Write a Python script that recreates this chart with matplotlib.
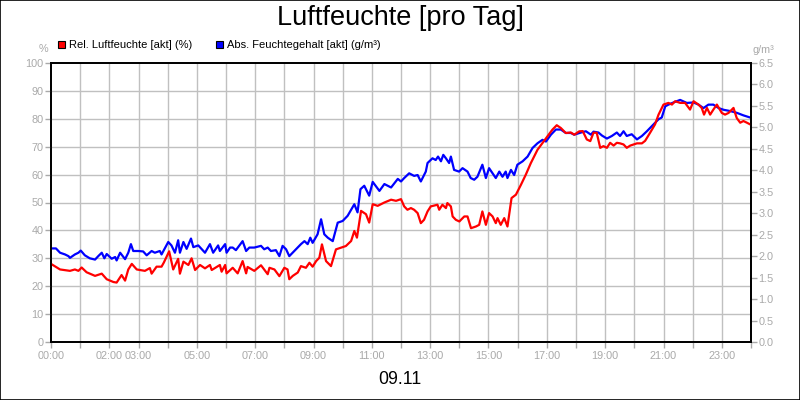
import matplotlib
matplotlib.use('Agg')
import matplotlib.pyplot as plt
from matplotlib.patches import Rectangle
import numpy as np

plt.rcParams['font.family'] = ['Liberation Sans', 'DejaVu Sans']

# relative humidity (%) - time in hours
rel_t = [0.0, 0.31, 0.65, 0.82, 0.94, 1.05, 1.22, 1.51, 1.74, 1.91, 2.14, 2.25, 2.42, 2.54,
         2.65, 2.77, 2.94, 3.22, 3.39, 3.45, 3.62, 3.79, 3.87, 4.05, 4.19, 4.36, 4.42, 4.54,
         4.71, 4.82, 4.94, 5.11, 5.28, 5.45, 5.51, 5.79, 5.85, 5.97, 6.02, 6.23, 6.4, 6.57,
         6.69, 6.74, 6.97, 7.2, 7.43, 7.49, 7.66, 7.83, 8.0, 8.11, 8.17, 8.29, 8.46, 8.57,
         8.74, 8.86, 8.97, 9.09, 9.2, 9.29, 9.43, 9.6, 9.77, 10.11, 10.29, 10.4, 10.49, 10.63,
         10.8, 10.91, 11.03, 11.2, 11.43, 11.66, 11.83, 12.0, 12.11, 12.22, 12.34, 12.45, 12.57,
         12.68, 12.79, 12.91, 13.02, 13.25, 13.31, 13.42, 13.54, 13.59, 13.71, 13.77, 13.88,
         14.0, 14.17, 14.28, 14.4, 14.57, 14.68, 14.79, 14.91, 15.02, 15.14, 15.25, 15.31,
         15.42, 15.54, 15.65, 15.79, 15.94, 16.11, 16.28, 16.45, 16.68, 16.85, 17.02, 17.19,
         17.34, 17.48, 17.65, 17.82, 17.94, 18.11, 18.23, 18.37, 18.49, 18.6, 18.71, 18.83,
         18.94, 19.06, 19.17, 19.29, 19.4, 19.51, 19.63, 19.74, 19.86, 20.09, 20.26, 20.37,
         20.54, 20.71, 20.83, 21.0, 21.17, 21.29, 21.4, 21.57, 21.74, 21.91, 22.03, 22.2,
         22.31, 22.39, 22.49, 22.6, 22.71, 22.83, 23.0, 23.11, 23.23, 23.4, 23.51, 23.63,
         23.74, 23.86, 23.97, 24.0]
rel_h = [28, 26, 25.5, 26, 25.5, 26.7, 25, 23.7, 24.5, 22.5, 21.5, 21.3, 24, 22,
         26, 28, 26, 25.5, 26.5, 24.5, 27, 27, 28.5, 32.5, 26, 29.8, 24.5, 28.8,
         27.6, 30, 25.8, 27.6, 26.4, 27.6, 25.8, 27.6, 25.2, 27.6, 24.6, 26.6, 24.6, 29,
         24.6, 26.9, 25.5, 27.5, 24.3, 26.6, 26, 23.6, 26.6, 26, 22.5, 23.7, 24.9, 27.2,
         26.6, 28.4, 27, 29, 30.2, 35, 29, 27.2, 33.2, 34.4, 36.2, 39.8, 37.4, 47,
         45.8, 42.8, 49.4, 48.8, 50, 51, 50.6, 51.2, 48.6, 47.4, 48, 47.4, 46.2,
         42.6, 43.8, 46.8, 48.6, 49.2, 47.4, 49.2, 48, 49.8, 48.6, 45, 43.8,
         43.2, 45, 45, 40.8, 41.4, 42, 46.8, 42, 46.2, 45, 42.6, 44.4,
         42, 44.4, 41.4, 51.6, 52.8, 56.3, 60, 64.1, 68.9, 71.3, 73.7, 76.1,
         77.7, 76.7, 74.9, 75.1, 74.3, 75.5, 75.6, 72.6, 72, 75, 75, 69.6,
         70.2, 69.6, 71.4, 70.4, 71.4, 71.2, 70.8, 69.6, 70.4, 71.2, 71.2, 72.1,
         75, 78, 81.5, 85.1, 85.7, 85.1, 86.3, 85.7, 85.7, 83.3, 86.3, 85.1,
         83.9, 81.5, 83.9, 81.5, 83.3, 85.1, 82.1, 81.5, 82.1, 83.9, 80.3, 78.6,
         79.2, 78.6, 78, 78]

# absolute humidity (g/m3)
abs_t = [0.0, 0.17, 0.31, 0.48, 0.6, 0.65, 0.82, 0.94, 1.02, 1.16, 1.33, 1.51, 1.62, 1.74,
         1.83, 1.91, 2.08, 2.2, 2.25, 2.37, 2.54, 2.65, 2.74, 2.82, 2.99, 3.16, 3.28, 3.45,
         3.56, 3.73, 3.79, 4.02, 4.13, 4.25, 4.36, 4.42, 4.54, 4.65, 4.8, 4.88, 5.05, 5.28,
         5.45, 5.56, 5.73, 5.79, 5.97, 6.02, 6.14, 6.23, 6.34, 6.57, 6.69, 6.8, 6.97, 7.2,
         7.31, 7.43, 7.54, 7.71, 7.83, 7.94, 8.06, 8.17, 8.34, 8.57, 8.69, 8.8, 8.89, 8.97,
         9.14, 9.26, 9.37, 9.49, 9.66, 9.83, 10.0, 10.17, 10.4, 10.51, 10.61, 10.74, 10.91,
         11.03, 11.26, 11.43, 11.66, 11.89, 12.0, 12.11, 12.28, 12.45, 12.57, 12.68, 12.85,
         12.91, 13.08, 13.19, 13.27, 13.37, 13.45, 13.54, 13.65, 13.71, 13.82, 13.99, 14.11,
         14.28, 14.39, 14.51, 14.62, 14.79, 14.91, 15.02, 15.14, 15.25, 15.37, 15.48, 15.59,
         15.65, 15.77, 15.88, 15.99, 16.17, 16.34, 16.51, 16.68, 16.85, 16.97, 17.14, 17.31,
         17.48, 17.65, 17.82, 17.94, 18.17, 18.34, 18.51, 18.6, 18.77, 18.89, 19.06, 19.23,
         19.4, 19.51, 19.63, 19.74, 19.91, 20.09, 20.26, 20.43, 20.6, 20.83, 20.94, 21.06,
         21.17, 21.34, 21.57, 21.8, 22.03, 22.2, 22.37, 22.54, 22.71, 22.89, 23.06, 23.29,
         23.51, 23.74, 23.97, 24.0]
abs_h = [2.18, 2.18, 2.08, 2.04, 2.00, 1.96, 2.04, 2.08, 2.13, 2.02, 1.95, 1.92, 2.00, 2.08,
         1.95, 2.05, 1.94, 1.98, 1.90, 2.08, 1.93, 2.08, 2.28, 2.12, 2.12, 2.11, 2.02, 2.12,
         2.08, 2.12, 2.04, 2.33, 2.25, 2.08, 2.37, 2.08, 2.33, 2.17, 2.41, 2.21, 2.25, 2.08,
         2.28, 2.08, 2.25, 2.12, 2.28, 2.08, 2.20, 2.20, 2.14, 2.35, 2.12, 2.20, 2.20, 2.24,
         2.16, 2.20, 2.12, 2.14, 2.00, 2.24, 2.16, 2.00, 2.12, 2.28, 2.35, 2.28, 2.43, 2.31,
         2.51, 2.86, 2.51, 2.43, 2.35, 2.78, 2.82, 2.94, 3.21, 3.02, 3.56, 3.64, 3.41,
         3.73, 3.52, 3.68, 3.60, 3.80, 3.74, 3.82, 3.93, 3.87, 3.89, 3.74, 3.97,
         4.17, 4.28, 4.24, 4.32, 4.21, 4.36, 4.28, 4.17, 4.32, 4.01, 3.97, 4.05,
         3.97, 3.82, 3.78, 3.85, 4.13, 3.82, 4.05, 3.93, 3.82, 3.97, 3.85, 3.97,
         3.82, 4.01, 3.89, 4.13, 4.21, 4.32, 4.52, 4.63, 4.71, 4.67, 4.83, 4.95,
         4.95, 4.87, 4.87, 4.83, 4.88, 4.91, 4.83, 4.90, 4.88, 4.81, 4.74, 4.80,
         4.88, 4.80, 4.91, 4.80, 4.84, 4.72, 4.80, 4.91, 5.03, 5.19, 5.23, 5.49,
         5.53, 5.58, 5.64, 5.57, 5.58, 5.53, 5.45, 5.53, 5.53, 5.45, 5.41, 5.38,
         5.34, 5.28, 5.23, 5.23]

xtick_labels = {0: '00:00', 2: '02:00', 3: '03:00', 5: '05:00', 7: '07:00', 9: '09:00',
                11: '11:00', 13: '13:00', 15: '15:00', 17: '17:00', 19: '19:00',
                21: '21:00', 23: '23:00'}
left_ticks = list(range(0, 101, 10))
right_ticks = [0.0, 0.5, 1.0, 1.5, 2.0, 2.5, 3.0, 3.5, 4.0, 4.5, 5.0, 5.5, 6.0, 6.5]

grey = '#a9a9a9'
gridc = '#c0c0c0'

fig = plt.figure(figsize=(8, 4), dpi=100)
fig.patch.set_facecolor('white')
fig.patches.append(Rectangle((0.0006, 0.0012), 0.9988, 0.9976, transform=fig.transFigure,
                             fill=False, edgecolor='black', linewidth=1.2))

ax = fig.add_axes([51 / 800, 58 / 400, 700 / 800, 279 / 400])
ax2 = ax.twinx()
# red on top of blue: left axes above the twin
ax.set_zorder(ax2.get_zorder() + 1)
ax.patch.set_visible(False)
ax2.patch.set_facecolor('white')

# grid on the lower (twin) axes
for h in range(1, 24):
    ax2.axvline(h, color=gridc, linewidth=1.0, zorder=0)
for v in left_ticks[1:-1]:
    ax2.axhline(v * 6.5 / 100, color=gridc, linewidth=1.0, zorder=0)

ax2.plot(abs_t, abs_h, color='#0000ff', linewidth=1.6, zorder=2)
ax.plot(rel_t, rel_h, color='#ff0000', linewidth=1.6, zorder=2)

ax.set_xlim(0, 24)
ax.set_ylim(0, 100)
ax2.set_ylim(0, 6.5)

ax.set_xticks(range(0, 25))
ax.set_xticklabels([xtick_labels.get(h, '') for h in range(0, 25)])
ax.set_yticks(left_ticks)
ax.set_yticklabels([str(v) for v in left_ticks])
ax2.set_yticks(right_ticks)
ax2.set_yticklabels(['%.1f' % v for v in right_ticks])

for a in (ax, ax2):
    a.tick_params(colors=grey, labelsize=7.8, length=4, width=1.0, pad=1.5)
    for s in a.spines.values():
        s.set_color('black')
        s.set_linewidth(1.3)
ax.tick_params(axis='x', pad=2.5)

fig.text(0.5, 1 - 18 / 400, 'Luftfeuchte [pro Tag]', ha='center', va='center', fontsize=19.5)
fig.text(0.5, 1 - 380 / 400, '09.11', ha='center', va='center', fontsize=12.7)
fig.text(43 / 800, 1 - 49 / 400, '%', ha='center', va='center', fontsize=7.8, color=grey)
fig.text(763 / 800, 1 - 50 / 400, 'g/m³', ha='center', va='center', fontsize=7.8, color=grey)

# legend
for x0, col, label in [(58, '#ff0000', 'Rel. Luftfeuchte [akt] (%)'),
                       (216, '#0000ff', 'Abs. Feuchtegehalt [akt] (g/m³)')]:
    fig.patches.append(Rectangle((x0 / 800, 1 - 48 / 400), 7 / 800, 7 / 400,
                                 transform=fig.transFigure, facecolor=col,
                                 edgecolor='black', linewidth=0.8))
    fig.text((x0 + 11) / 800, 1 - 44.5 / 400, label, ha='left', va='center', fontsize=8)

fig.savefig('out.png', dpi=100)
